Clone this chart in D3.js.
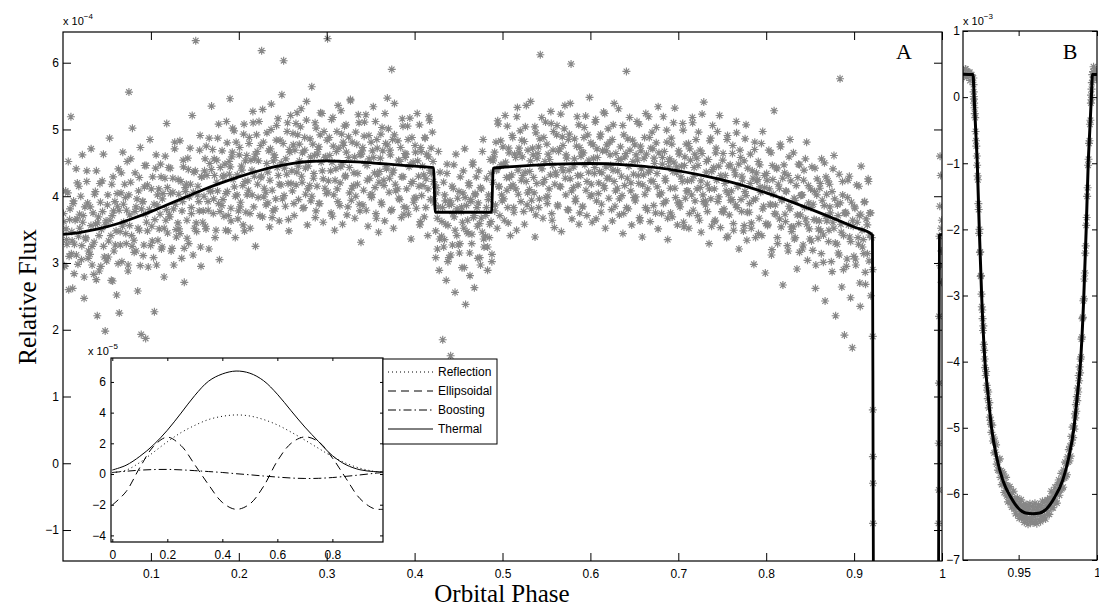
<!DOCTYPE html>
<html><head><meta charset="utf-8">
<script src="https://cdn.jsdelivr.net/npm/d3@7"></script>
<style>
body{margin:0;background:#fff}
svg{display:block}
</style>
</head><body>
<svg id="c" width="1099" height="607" font-family="'Liberation Sans', Arial, Helvetica, sans-serif"></svg>
<script>
// ---------------- DATA (flux in units of 1e-4 unless noted) ----------------
const phaseTicksA = [0.1,0.2,0.3,0.4,0.5,0.6,0.7,0.8,0.9,1];
const phaseLabelsA = ["0.1","0.2","0.3","0.4","0.5","0.6","0.7","0.8","0.9","1"];
const fluxTicksA = [-1,0,1,2,3,4,5,6];
const fluxLabelsA = ["\u22121","0","1","2","3","4","5","6"];
const phaseTicksB = [0.95,1];
const phaseLabelsB = ["0.95","1"];
const fluxTicksB = [-70,-60,-50,-40,-30,-20,-10,0,10];
const fluxLabelsB = ["\u22127","\u22126","\u22125","\u22124","\u22123","\u22122","\u22121","0","1"];
const insetXTicks = [0,0.2,0.4,0.6,0.8];
const insetXLabels = ["0","0.2","0.4","0.6","0.8"];
const insetYTicks = [-4,-2,0,2,4,6];
const insetYLabels = ["\u22124","\u22122","0","2","4","6"];

// model light curve [phase, flux x1e-4]
const modelCurve = [[0,3.43],[0.02,3.46],[0.04,3.51],[0.06,3.58],[0.08,3.67],[0.10,3.77],[0.12,3.88],[0.14,3.99],[0.16,4.10],[0.18,4.20],[0.20,4.29],[0.22,4.37],[0.24,4.44],[0.26,4.49],[0.28,4.52],[0.30,4.53],[0.32,4.52],[0.34,4.51],[0.36,4.49],[0.38,4.47],[0.40,4.45],[0.4215,4.43],[0.4235,3.76],[0.4875,3.76],[0.4895,4.42],[0.52,4.45],[0.56,4.48],[0.60,4.49],[0.64,4.47],[0.68,4.42],[0.72,4.33],[0.76,4.21],[0.80,4.05],[0.84,3.86],[0.88,3.65],[0.90,3.54],[0.9209,3.42],[0.9216,0],[0.9226,-5],[0.9236,-10],[0.9249,-20],[0.9264,-30],[0.9285,-40],[0.9305,-45],[0.9327,-50],[0.9360,-54.5],[0.9400,-58],[0.9450,-60.5],[0.9500,-62.2],[0.9545,-62.9],[0.9590,-63],[0.9635,-62.9],[0.9680,-62.2],[0.9730,-60.5],[0.9780,-58],[0.9820,-54.5],[0.9853,-50],[0.9875,-45],[0.9895,-40],[0.9916,-30],[0.9931,-20],[0.9944,-10],[0.9954,-5],[0.9964,0],[0.9971,3.42],[1,3.43]];

// observed points, out of primary eclipse [phase, flux x1e-4]
const scatterA1 = [[0.001,3.62],[0.002,2.95],[0.003,4.08],[0.004,3.35],[0.006,4.52],[0.007,3.10],[0.008,3.81],[0.009,5.19],[0.010,3.47],[0.011,2.62],[0.012,3.93],[0.013,3.28],[0.015,4.41],[0.016,3.66],[0.017,2.98],[0.018,4.15],[0.019,3.52],[0.021,3.05],[0.022,4.62],[0.023,3.71],[0.024,2.47],[0.026,3.36],[0.027,4.22],[0.028,3.90],[0.029,3.18],[0.031,3.84],[0.032,4.71],[0.033,3.25],[0.035,2.83],[0.036,4.03],[0.037,3.58],[0.038,4.38],[0.039,2.21],[0.041,3.41],[0.042,4.19],[0.043,2.95],[0.045,3.77],[0.046,4.63],[0.047,3.09],[0.048,1.98],[0.049,3.63],[0.051,4.02],[0.052,3.33],[0.053,4.87],[0.055,2.74],[0.056,3.71],[0.057,4.29],[0.058,3.18],[0.059,3.92],[0.061,2.52],[0.062,3.85],[0.063,4.41],[0.064,2.25],[0.065,3.47],[0.066,4.05],[0.067,3.02],[0.068,4.66],[0.069,3.61],[0.071,3.98],[0.072,3.29],[0.073,4.52],[0.074,2.88],[0.075,5.56],[0.076,3.72],[0.077,4.21],[0.078,3.41],[0.079,5.02],[0.081,3.16],[0.082,4.35],[0.083,3.84],[0.085,2.58],[0.086,4.08],[0.087,3.49],[0.088,4.73],[0.089,1.93],[0.091,3.92],[0.092,3.27],[0.093,4.46],[0.094,1.87],[0.095,3.61],[0.096,4.17],[0.097,2.94],[0.099,4.85],[0.101,3.55],[0.102,4.29],[0.103,3.08],[0.104,2.27],[0.106,4.62],[0.107,3.87],[0.108,3.34],[0.109,4.11],[0.111,4.48],[0.112,3.21],[0.113,3.96],[0.115,2.79],[0.116,4.27],[0.117,3.64],[0.118,5.09],[0.119,3.45],[0.121,3.73],[0.122,4.42],[0.123,3.18],[0.125,4.06],[0.126,2.97],[0.127,4.71],[0.128,3.88],[0.129,3.39],[0.131,4.25],[0.132,3.51],[0.133,4.83],[0.135,3.07],[0.136,3.92],[0.137,4.44],[0.138,2.71],[0.139,4.13],[0.141,3.64],[0.142,4.57],[0.143,3.29],[0.145,4.18],[0.146,3.83],[0.147,5.21],[0.148,3.12],[0.149,4.36],[0.151,6.33],[0.152,3.47],[0.153,4.02],[0.155,3.78],[0.156,4.91],[0.157,2.95],[0.158,4.29],[0.159,3.61],[0.161,4.38],[0.162,3.55],[0.163,4.75],[0.165,3.92],[0.166,3.21],[0.167,4.49],[0.168,4.08],[0.169,5.35],[0.171,3.74],[0.172,4.56],[0.173,3.38],[0.175,4.21],[0.176,4.87],[0.177,3.89],[0.178,3.05],[0.179,4.43],[0.181,4.68],[0.182,3.95],[0.183,4.31],[0.185,3.49],[0.186,5.12],[0.187,4.07],[0.188,3.71],[0.189,4.52],[0.190,5.46],[0.191,3.82],[0.192,4.59],[0.193,5.02],[0.195,4.14],[0.196,3.38],[0.197,4.81],[0.198,4.02],[0.199,3.66],[0.201,4.73],[0.202,3.91],[0.203,4.45],[0.205,3.57],[0.206,5.08],[0.207,4.22],[0.208,3.76],[0.209,4.61],[0.211,4.09],[0.212,4.88],[0.213,3.52],[0.215,4.39],[0.216,5.27],[0.217,3.84],[0.218,4.56],[0.219,3.25],[0.221,4.67],[0.222,3.98],[0.223,5.12],[0.225,4.28],[0.226,6.18],[0.227,3.69],[0.228,4.81],[0.229,4.12]];
const scatterA2 = [[0.231,3.87],[0.232,4.95],[0.233,4.36],[0.235,3.54],[0.236,4.71],[0.237,5.38],[0.238,4.09],[0.239,3.78],[0.241,4.58],[0.242,3.96],[0.243,5.06],[0.245,4.31],[0.246,3.63],[0.247,4.84],[0.248,4.17],[0.249,5.52],[0.251,6.03],[0.252,4.42],[0.253,3.85],[0.255,4.97],[0.256,4.19],[0.257,3.48],[0.258,4.66],[0.259,5.21],[0.261,4.08],[0.262,4.77],[0.263,3.71],[0.265,5.09],[0.266,4.36],[0.267,4.92],[0.268,3.95],[0.269,4.53],[0.271,5.31],[0.272,4.21],[0.273,3.82],[0.275,4.69],[0.276,4.03],[0.277,5.14],[0.278,3.57],[0.279,4.45],[0.281,4.86],[0.282,3.93],[0.283,5.64],[0.285,4.27],[0.286,4.61],[0.287,3.68],[0.288,5.02],[0.289,4.15],[0.291,4.74],[0.292,3.89],[0.293,5.25],[0.295,4.38],[0.296,3.61],[0.297,4.97],[0.298,4.12],[0.299,4.59],[0.301,6.36],[0.302,4.23],[0.303,4.88],[0.305,3.75],[0.306,4.51],[0.307,5.18],[0.308,4.02],[0.309,3.49],[0.311,4.67],[0.312,4.11],[0.313,5.36],[0.315,3.86],[0.316,4.44],[0.317,4.93],[0.318,3.58],[0.319,4.76],[0.321,4.29],[0.322,5.07],[0.323,3.72],[0.325,4.58],[0.326,4.05],[0.327,5.45],[0.328,3.94],[0.329,4.81],[0.331,4.35],[0.332,3.67],[0.333,4.96],[0.335,4.18],[0.336,5.22],[0.337,3.88],[0.338,4.62],[0.339,3.31],[0.341,4.73],[0.342,4.09],[0.343,5.11],[0.345,3.79],[0.346,4.46],[0.347,3.55],[0.348,4.91],[0.349,4.27],[0.351,3.98],[0.352,4.68],[0.353,5.34],[0.355,4.13],[0.356,3.74],[0.357,4.85],[0.358,4.32],[0.359,3.46],[0.361,4.57],[0.362,3.91],[0.363,5.03],[0.365,4.24],[0.366,3.63],[0.367,4.79],[0.368,4.41],[0.369,5.47],[0.371,4.06],[0.372,4.69],[0.373,3.78],[0.374,5.90],[0.375,4.35],[0.376,3.52],[0.377,4.92],[0.378,4.18],[0.381,4.83],[0.382,3.97],[0.383,4.52],[0.385,3.68],[0.386,5.16],[0.387,4.29],[0.388,3.84],[0.389,4.64],[0.391,4.11],[0.392,5.05],[0.393,3.73],[0.395,4.47],[0.396,3.36],[0.397,4.88],[0.398,4.22],[0.399,3.91],[0.401,4.66],[0.402,3.82],[0.403,5.24],[0.405,4.15],[0.406,3.57],[0.407,4.73],[0.408,4.01],[0.409,4.45],[0.411,3.69],[0.412,4.87],[0.413,4.26],[0.415,3.41],[0.416,4.59],[0.417,5.13],[0.418,3.95],[0.419,4.34],[0.421,4.52],[0.422,3.96],[0.423,4.17],[0.424,3.48],[0.425,4.05],[0.426,3.21],[0.427,3.84],[0.428,2.89],[0.429,4.36],[0.431,3.62],[0.432,1.85],[0.433,4.21],[0.434,3.35],[0.435,3.93],[0.436,2.74],[0.437,4.48],[0.438,3.56],[0.439,3.08],[0.441,1.61],[0.442,3.88],[0.443,3.27],[0.444,4.12],[0.445,3.69],[0.446,2.56],[0.447,4.63],[0.448,3.41],[0.449,3.97],[0.451,3.15],[0.452,4.29],[0.453,3.77],[0.454,2.93],[0.455,4.05],[0.456,3.52],[0.457,4.71],[0.458,2.38],[0.459,3.86]];
const scatterA3 = [[0.461,3.44],[0.462,4.16],[0.463,2.81],[0.464,3.92],[0.465,3.29],[0.466,4.47],[0.467,3.68],[0.468,2.63],[0.469,4.02],[0.471,3.83],[0.472,3.07],[0.473,4.38],[0.474,3.59],[0.475,2.97],[0.476,4.11],[0.477,3.46],[0.478,4.85],[0.479,3.24],[0.481,3.71],[0.482,4.27],[0.483,2.89],[0.484,3.95],[0.485,3.38],[0.486,4.55],[0.487,3.62],[0.488,3.13],[0.489,4.21],[0.491,4.66],[0.492,3.87],[0.493,4.39],[0.494,3.52],[0.495,5.08],[0.496,4.14],[0.497,3.71],[0.498,4.83],[0.499,4.02],[0.501,4.47],[0.502,3.64],[0.503,5.21],[0.505,4.09],[0.506,3.83],[0.507,4.72],[0.508,4.28],[0.509,3.41],[0.511,4.91],[0.512,4.17],[0.513,3.76],[0.515,4.58],[0.516,3.49],[0.517,5.33],[0.518,4.03],[0.519,4.65],[0.521,3.92],[0.522,4.84],[0.523,4.31],[0.525,3.58],[0.526,5.04],[0.527,4.22],[0.528,3.87],[0.529,4.69],[0.531,4.37],[0.532,5.42],[0.533,3.81],[0.535,4.62],[0.536,4.05],[0.537,3.39],[0.538,4.95],[0.539,4.19],[0.541,4.74],[0.542,3.96],[0.543,6.12],[0.545,4.41],[0.546,3.67],[0.547,4.88],[0.548,4.25],[0.549,5.11],[0.551,3.89],[0.552,4.63],[0.553,4.11],[0.555,5.27],[0.556,3.74],[0.557,4.46],[0.558,4.97],[0.559,3.53],[0.561,4.32],[0.562,5.06],[0.563,3.85],[0.565,4.71],[0.566,4.14],[0.567,3.47],[0.568,4.89],[0.569,4.38],[0.571,5.36],[0.572,4.02],[0.573,4.57],[0.575,3.79],[0.576,4.93],[0.577,4.26],[0.578,5.98],[0.579,3.66],[0.581,4.44],[0.582,4.86],[0.583,3.92],[0.585,5.19],[0.586,4.17],[0.587,3.58],[0.588,4.73],[0.589,4.31],[0.591,3.84],[0.592,4.65],[0.593,5.03],[0.595,4.09],[0.596,3.71],[0.597,4.92],[0.598,4.36],[0.599,5.48],[0.601,4.18],[0.602,3.61],[0.603,4.77],[0.605,4.43],[0.606,5.15],[0.607,3.93],[0.608,4.58],[0.609,4.04],[0.611,4.89],[0.612,3.76],[0.613,4.35],[0.615,5.26],[0.616,4.12],[0.617,3.52],[0.618,4.68],[0.619,4.27],[0.621,3.97],[0.622,4.81],[0.623,4.46],[0.625,3.63],[0.626,5.07],[0.627,4.22],[0.628,3.85],[0.629,4.64],[0.631,4.38],[0.632,5.31],[0.633,3.72],[0.635,4.55],[0.636,4.01],[0.637,3.44],[0.638,4.92],[0.639,4.16],[0.641,5.87],[0.642,4.27],[0.643,3.81],[0.645,4.69],[0.646,4.08],[0.647,3.57],[0.648,4.84],[0.649,4.33],[0.651,3.93],[0.652,4.62],[0.653,5.12],[0.655,4.19],[0.656,3.68],[0.657,4.75],[0.658,4.41],[0.659,3.39],[0.661,4.57],[0.662,4.03],[0.663,5.24],[0.665,3.79],[0.666,4.36],[0.667,4.88],[0.668,3.62],[0.669,4.23],[0.671,4.71],[0.672,3.86],[0.673,4.49],[0.675,5.03],[0.676,4.14],[0.677,3.51],[0.678,4.65],[0.679,4.02],[0.681,3.74],[0.682,4.58],[0.683,5.19],[0.685,4.27],[0.686,3.93],[0.687,4.81],[0.688,3.35],[0.689,4.44]];
const scatterA4 = [[0.691,4.12],[0.692,4.87],[0.693,3.69],[0.695,4.51],[0.696,5.32],[0.697,3.98],[0.698,4.35],[0.699,3.57],[0.701,4.63],[0.702,3.84],[0.703,4.29],[0.705,5.09],[0.706,3.61],[0.707,4.46],[0.708,3.97],[0.709,4.78],[0.711,4.08],[0.712,3.52],[0.713,4.71],[0.715,4.24],[0.716,5.18],[0.717,3.79],[0.718,4.43],[0.719,3.93],[0.721,4.57],[0.722,3.71],[0.723,4.96],[0.725,4.13],[0.726,3.46],[0.727,4.64],[0.728,4.02],[0.729,5.41],[0.731,3.87],[0.732,4.52],[0.733,4.18],[0.735,3.29],[0.736,4.83],[0.737,3.96],[0.738,4.37],[0.739,5.06],[0.741,4.11],[0.742,3.64],[0.743,4.72],[0.745,3.92],[0.746,4.45],[0.747,5.21],[0.748,3.53],[0.749,4.28],[0.751,4.64],[0.752,3.81],[0.753,4.19],[0.755,3.38],[0.756,4.91],[0.757,4.03],[0.758,3.72],[0.759,4.47],[0.761,3.95],[0.762,4.76],[0.763,3.49],[0.765,4.32],[0.766,5.12],[0.767,3.83],[0.768,4.15],[0.769,3.21],[0.771,4.58],[0.772,3.77],[0.773,4.24],[0.775,3.56],[0.776,4.86],[0.777,4.01],[0.778,3.34],[0.779,4.42],[0.781,3.89],[0.782,4.63],[0.783,3.52],[0.785,4.27],[0.786,2.98],[0.787,4.81],[0.788,3.96],[0.789,4.35],[0.791,4.52],[0.792,3.67],[0.793,4.14],[0.795,3.41],[0.796,4.97],[0.797,3.85],[0.798,4.31],[0.799,2.85],[0.801,4.24],[0.802,3.58],[0.803,4.69],[0.805,3.87],[0.806,3.12],[0.807,4.46],[0.808,4.03],[0.809,5.28],[0.811,3.73],[0.812,4.41],[0.813,3.29],[0.815,4.12],[0.816,4.78],[0.817,3.54],[0.818,3.95],[0.819,2.67],[0.821,4.35],[0.822,3.62],[0.823,4.07],[0.825,3.18],[0.826,4.59],[0.827,3.81],[0.828,4.23],[0.829,3.47],[0.831,4.65],[0.832,3.36],[0.833,3.94],[0.835,2.91],[0.836,4.28],[0.837,3.59],[0.838,4.47],[0.839,3.72],[0.841,4.02],[0.842,3.27],[0.843,4.39],[0.845,3.66],[0.846,4.81],[0.847,3.04],[0.848,4.16],[0.849,3.51],[0.851,3.83],[0.852,4.44],[0.853,3.19],[0.855,4.07],[0.856,2.62],[0.857,3.64],[0.858,4.26],[0.859,3.37],[0.861,4.12],[0.862,3.48],[0.863,4.56],[0.865,3.01],[0.866,3.86],[0.867,2.43],[0.868,4.29],[0.869,3.63],[0.871,3.32],[0.872,4.18],[0.873,3.75],[0.875,2.87],[0.876,4.41],[0.877,3.52],[0.878,3.96],[0.879,2.21],[0.881,3.87],[0.882,3.15],[0.883,4.33],[0.884,5.76],[0.885,3.58],[0.886,2.64],[0.887,4.02],[0.888,3.41],[0.889,1.92],[0.891,3.74],[0.892,3.06],[0.893,4.24],[0.895,3.39],[0.896,2.48],[0.897,3.91],[0.898,1.73],[0.899,3.55],[0.901,3.82],[0.902,2.97],[0.903,4.17],[0.905,3.28],[0.906,3.71],[0.907,2.35],[0.908,4.45],[0.909,3.49],[0.911,3.14],[0.912,3.92],[0.913,2.68],[0.915,3.57],[0.916,4.26],[0.917,3.03],[0.918,3.75],[0.919,2.51],[0.920,3.38],[0.9975,3.85],[0.9978,4.60],[0.998,2.96],[0.9985,4.31],[0.999,3.52],[0.9992,3.18],[0.9995,2.71],[0.9998,3.64]];
const scatterB1 = [[0.0005,3.74],[0.0015,2.96],[0.0035,3.51],[0.0045,3.28],[0.0055,4.05],[0.0065,2.60],[0.0075,3.65],[0.0095,3.14],[0.0104,3.33],[0.0116,3.89],[0.0127,2.84],[0.0138,3.64],[0.0152,3.12],[0.0163,4.20],[0.0177,3.40],[0.0188,3.73],[0.0202,4.00],[0.0214,3.26],[0.0224,3.61],[0.0241,2.79],[0.0249,3.84],[0.0258,3.38],[0.0271,4.38],[0.0286,3.07],[0.0307,3.13],[0.0318,3.56],[0.0331,2.97],[0.0342,3.75],[0.0354,3.31],[0.0368,4.07],[0.0379,2.75],[0.0393,3.60],[0.0403,3.69],[0.0412,2.88],[0.0426,3.91],[0.0437,3.50],[0.0446,4.23],[0.0461,3.25],[0.0483,3.57],[0.0497,3.03],[0.0505,3.87],[0.0515,3.09],[0.0535,3.64],[0.0545,3.41],[0.0555,4.18],[0.0565,2.73],[0.0575,3.78],[0.0595,3.27],[0.0604,3.48],[0.0616,4.04],[0.0627,2.99],[0.0638,3.79],[0.0652,3.27],[0.0663,4.35],[0.0677,3.55],[0.0688,3.88],[0.0702,4.18],[0.0714,3.44],[0.0724,3.79],[0.0741,2.97],[0.0749,4.02],[0.0758,3.56],[0.0771,4.56],[0.0786,3.25],[0.0807,3.34],[0.0818,3.77],[0.0831,3.18],[0.0842,3.96],[0.0854,3.52],[0.0868,4.28],[0.0879,2.96],[0.0893,3.81],[0.0903,3.92],[0.0912,3.11],[0.0926,4.14],[0.0937,3.73],[0.0946,4.46],[0.0961,3.48],[0.0983,3.80],[0.0997,3.26],[0.1005,4.11],[0.1015,3.33],[0.1035,3.88],[0.1045,3.65],[0.1055,4.42],[0.1065,2.97],[0.1075,4.02],[0.1095,3.51],[0.1104,3.73],[0.1116,4.29],[0.1127,3.24],[0.1138,4.04],[0.1152,3.52],[0.1163,4.60],[0.1177,3.80],[0.1188,4.13],[0.1202,4.43],[0.1214,3.69],[0.1224,4.04],[0.1241,3.22],[0.1249,4.27],[0.1258,3.81],[0.1271,4.81],[0.1286,3.50],[0.1307,3.60],[0.1318,4.03],[0.1331,3.44],[0.1342,4.22],[0.1354,3.78],[0.1368,4.54],[0.1379,3.22],[0.1393,4.07],[0.1403,4.18],[0.1412,3.37],[0.1426,4.40],[0.1437,3.99],[0.1446,4.72],[0.1461,3.74],[0.1483,4.06],[0.1497,3.52],[0.1505,4.38],[0.1515,3.60],[0.1535,4.15],[0.1545,3.92],[0.1555,4.69],[0.1565,3.24],[0.1575,4.29],[0.1595,3.78],[0.1604,4.00],[0.1616,4.56],[0.1627,3.51],[0.1638,4.31],[0.1652,3.79],[0.1663,4.87],[0.1677,4.07],[0.1688,4.40],[0.1702,4.70],[0.1714,3.96],[0.1724,4.31],[0.1741,3.49],[0.1749,4.54],[0.1758,4.08],[0.1771,5.08],[0.1786,3.77],[0.1807,3.86],[0.1818,4.29],[0.1831,3.70],[0.1842,4.48],[0.1854,4.04],[0.1868,4.80],[0.1879,3.48],[0.1893,4.33],[0.1903,4.44],[0.1912,3.63],[0.1926,4.66],[0.1937,4.25],[0.1946,4.98],[0.1961,4.00],[0.1983,4.32],[0.1997,3.78],[0.2005,4.62],[0.2015,3.84],[0.2035,4.39],[0.2045,4.16],[0.2055,4.93],[0.2065,3.48],[0.2075,4.53],[0.2095,4.02],[0.2104,4.23],[0.2116,4.79],[0.2127,3.74],[0.2138,4.54],[0.2152,4.02],[0.2163,5.10],[0.2177,4.30],[0.2188,4.63],[0.2202,4.92],[0.2214,4.18],[0.2224,4.53],[0.2241,3.71],[0.2249,4.76],[0.2258,4.30],[0.2271,5.30],[0.2286,3.99]];
const scatterB2 = [[0.2307,4.06],[0.2318,4.49],[0.2331,3.90],[0.2342,4.68],[0.2354,4.24],[0.2368,5.00],[0.2379,3.68],[0.2393,4.53],[0.2403,4.62],[0.2412,3.81],[0.2426,4.84],[0.2437,4.43],[0.2446,5.16],[0.2461,4.18],[0.2483,4.50],[0.2497,3.96],[0.2505,4.79],[0.2515,4.01],[0.2535,4.56],[0.2545,4.33],[0.2555,5.10],[0.2565,3.65],[0.2575,4.70],[0.2595,4.19],[0.2604,4.38],[0.2616,4.94],[0.2627,3.89],[0.2638,4.69],[0.2652,4.17],[0.2663,5.25],[0.2677,4.45],[0.2688,4.78],[0.2702,5.04],[0.2714,4.30],[0.2724,4.65],[0.2741,3.83],[0.2749,4.88],[0.2758,4.42],[0.2771,5.42],[0.2786,4.11],[0.2807,4.16],[0.2818,4.59],[0.2831,4.00],[0.2842,4.78],[0.2854,4.34],[0.2868,5.10],[0.2879,3.78],[0.2893,4.63],[0.2903,4.70],[0.2912,3.89],[0.2926,4.92],[0.2937,4.51],[0.2946,5.24],[0.2961,4.26],[0.2983,4.58],[0.2997,4.04],[0.3005,4.84],[0.3015,4.06],[0.3035,4.61],[0.3045,4.38],[0.3055,5.15],[0.3065,3.70],[0.3075,4.75],[0.3095,4.24],[0.3104,4.41],[0.3116,4.97],[0.3127,3.92],[0.3138,4.72],[0.3152,4.20],[0.3163,5.28],[0.3177,4.48],[0.3188,4.81],[0.3202,5.05],[0.3214,4.31],[0.3224,4.66],[0.3241,3.84],[0.3249,4.89],[0.3258,4.43],[0.3271,5.43],[0.3286,4.12],[0.3307,4.16],[0.3318,4.59],[0.3331,4.00],[0.3342,4.78],[0.3354,4.34],[0.3368,5.10],[0.3379,3.78],[0.3393,4.63],[0.3403,4.68],[0.3412,3.87],[0.3426,4.90],[0.3437,4.49],[0.3446,5.22],[0.3461,4.24],[0.3483,4.56],[0.3497,4.02],[0.3505,4.81],[0.3515,4.03],[0.3535,4.58],[0.3545,4.35],[0.3555,5.12],[0.3565,3.67],[0.3575,4.72],[0.3595,4.21],[0.3604,4.37],[0.3616,4.93],[0.3627,3.88],[0.3638,4.68],[0.3652,4.16],[0.3663,5.24],[0.3677,4.44],[0.3688,4.77],[0.3702,5.01],[0.3714,4.27],[0.3724,4.62],[0.3741,3.80],[0.3749,4.85],[0.3758,4.39],[0.3771,5.39],[0.3786,4.08],[0.3807,4.11],[0.3818,4.54],[0.3831,3.95],[0.3842,4.73],[0.3854,4.29],[0.3868,5.05],[0.3879,3.73],[0.3893,4.58],[0.3903,4.63],[0.3912,3.82],[0.3926,4.85],[0.3937,4.44],[0.3946,5.17],[0.3961,4.19],[0.3983,4.51],[0.3997,3.97],[0.4005,4.76],[0.4015,3.98],[0.4035,4.53],[0.4045,4.30],[0.4055,5.07],[0.4065,3.62],[0.4075,4.67],[0.4095,4.16],[0.4104,4.32],[0.4116,4.88],[0.4127,3.83],[0.4138,4.63],[0.4152,4.11],[0.4163,5.19],[0.4177,4.39],[0.4188,4.72],[0.4202,4.96],[0.4214,4.22],[0.4224,3.90],[0.4241,3.08],[0.4249,4.13],[0.4258,3.67],[0.4271,4.67],[0.4286,3.36],[0.4307,3.40],[0.4318,3.83],[0.4331,3.24],[0.4342,4.02],[0.4354,3.58],[0.4368,4.34],[0.4379,3.02],[0.4393,3.87],[0.4403,3.93],[0.4412,3.12],[0.4426,4.15],[0.4437,3.74],[0.4446,4.47],[0.4461,3.49],[0.4483,3.81],[0.4497,3.27],[0.4505,4.07],[0.4515,3.29],[0.4535,3.84],[0.4545,3.61],[0.4555,4.38],[0.4565,2.93],[0.4575,3.98],[0.4595,3.47]];
const scatterB3 = [[0.4604,3.64],[0.4616,4.20],[0.4627,3.15],[0.4638,3.95],[0.4652,3.43],[0.4663,4.51],[0.4677,3.71],[0.4688,4.04],[0.4702,4.29],[0.4714,3.55],[0.4724,3.90],[0.4741,3.08],[0.4749,4.13],[0.4758,3.67],[0.4771,4.67],[0.4786,3.36],[0.4807,3.40],[0.4818,3.83],[0.4831,3.24],[0.4842,4.02],[0.4854,3.58],[0.4868,4.34],[0.4879,3.02],[0.4893,4.53],[0.4903,4.59],[0.4912,3.78],[0.4926,4.81],[0.4937,4.40],[0.4946,5.13],[0.4961,4.15],[0.4983,4.47],[0.4997,3.93],[0.5005,4.74],[0.5015,3.96],[0.5035,4.51],[0.5045,4.28],[0.5055,5.05],[0.5065,3.60],[0.5075,4.65],[0.5095,4.14],[0.5104,4.32],[0.5116,4.88],[0.5127,3.83],[0.5138,4.63],[0.5152,4.11],[0.5163,5.19],[0.5177,4.39],[0.5188,4.72],[0.5202,4.98],[0.5214,4.24],[0.5224,4.59],[0.5241,3.77],[0.5249,4.82],[0.5258,4.36],[0.5271,5.36],[0.5286,4.05],[0.5307,4.10],[0.5318,4.53],[0.5331,3.94],[0.5342,4.72],[0.5354,4.28],[0.5368,5.04],[0.5379,3.72],[0.5393,4.57],[0.5403,4.64],[0.5412,3.83],[0.5426,4.86],[0.5437,4.45],[0.5446,5.18],[0.5461,4.20],[0.5483,4.52],[0.5497,3.98],[0.5505,4.78],[0.5515,4.00],[0.5535,4.55],[0.5545,4.32],[0.5555,5.09],[0.5565,3.64],[0.5575,4.69],[0.5595,4.18],[0.5604,4.36],[0.5616,4.92],[0.5627,3.87],[0.5638,4.67],[0.5652,4.15],[0.5663,5.23],[0.5677,4.43],[0.5688,4.76],[0.5702,5.01],[0.5714,4.27],[0.5724,4.62],[0.5741,3.80],[0.5749,4.85],[0.5758,4.39],[0.5771,5.39],[0.5786,4.08],[0.5807,4.13],[0.5818,4.56],[0.5831,3.97],[0.5842,4.75],[0.5854,4.31],[0.5868,5.07],[0.5879,3.75],[0.5893,4.60],[0.5903,4.66],[0.5912,3.85],[0.5926,4.88],[0.5937,4.47],[0.5946,5.20],[0.5961,4.22],[0.5983,4.54],[0.5997,4.00],[0.6005,4.80],[0.6015,4.02],[0.6035,4.57],[0.6045,4.34],[0.6055,5.11],[0.6065,3.66],[0.6075,4.71],[0.6095,4.20],[0.6104,4.37],[0.6116,4.93],[0.6127,3.88],[0.6138,4.68],[0.6152,4.16],[0.6163,5.24],[0.6177,4.44],[0.6188,4.77],[0.6202,5.01],[0.6214,4.27],[0.6224,4.62],[0.6241,3.80],[0.6249,4.85],[0.6258,4.39],[0.6271,5.39],[0.6286,4.08],[0.6307,4.12],[0.6318,4.55],[0.6331,3.96],[0.6342,4.74],[0.6354,4.30],[0.6368,5.06],[0.6379,3.74],[0.6393,4.59],[0.6403,4.64],[0.6412,3.83],[0.6426,4.86],[0.6437,4.45],[0.6446,5.18],[0.6461,4.20],[0.6483,4.52],[0.6497,3.98],[0.6505,4.77],[0.6515,3.99],[0.6535,4.54],[0.6545,4.31],[0.6555,5.08],[0.6565,3.63],[0.6575,4.68],[0.6595,4.17],[0.6604,4.32],[0.6616,4.88],[0.6627,3.83],[0.6638,4.63],[0.6652,4.11],[0.6663,5.19],[0.6677,4.39],[0.6688,4.72],[0.6702,4.96],[0.6714,4.22],[0.6724,4.57],[0.6741,3.75],[0.6749,4.80],[0.6758,4.34],[0.6771,5.34],[0.6786,4.03],[0.6807,4.05],[0.6818,4.48],[0.6831,3.89],[0.6842,4.67],[0.6854,4.23],[0.6868,4.99],[0.6879,3.67],[0.6893,4.52]];
const scatterB4 = [[0.6903,4.56],[0.6912,3.75],[0.6926,4.78],[0.6937,4.37],[0.6946,5.10],[0.6961,4.12],[0.6983,4.44],[0.6997,3.90],[0.7005,4.68],[0.7015,3.90],[0.7035,4.45],[0.7045,4.22],[0.7055,4.99],[0.7065,3.54],[0.7075,4.59],[0.7095,4.08],[0.7104,4.23],[0.7116,4.79],[0.7127,3.74],[0.7138,4.54],[0.7152,4.02],[0.7163,5.10],[0.7177,4.30],[0.7188,4.63],[0.7202,4.85],[0.7214,4.11],[0.7224,4.46],[0.7241,3.64],[0.7249,4.69],[0.7258,4.23],[0.7271,5.23],[0.7286,3.92],[0.7307,3.93],[0.7318,4.36],[0.7331,3.77],[0.7342,4.55],[0.7354,4.11],[0.7368,4.87],[0.7379,3.55],[0.7393,4.40],[0.7403,4.43],[0.7412,3.62],[0.7426,4.65],[0.7437,4.24],[0.7446,4.97],[0.7461,3.99],[0.7483,4.31],[0.7497,3.77],[0.7505,4.54],[0.7515,3.76],[0.7535,4.31],[0.7545,4.08],[0.7555,4.85],[0.7565,3.40],[0.7575,4.45],[0.7595,3.94],[0.7604,4.08],[0.7616,4.64],[0.7627,3.59],[0.7638,4.39],[0.7652,3.87],[0.7663,4.95],[0.7677,4.15],[0.7688,4.48],[0.7702,4.69],[0.7714,3.95],[0.7724,4.30],[0.7741,3.48],[0.7749,4.53],[0.7758,4.07],[0.7771,5.07],[0.7786,3.76],[0.7807,3.76],[0.7818,4.19],[0.7831,3.60],[0.7842,4.38],[0.7854,3.94],[0.7868,4.70],[0.7879,3.38],[0.7893,4.23],[0.7903,4.25],[0.7912,3.44],[0.7926,4.47],[0.7937,4.06],[0.7946,4.79],[0.7961,3.81],[0.7983,4.13],[0.7997,3.59],[0.8005,4.34],[0.8015,3.56],[0.8035,4.11],[0.8045,3.88],[0.8055,4.65],[0.8065,3.20],[0.8075,4.25],[0.8095,3.74],[0.8104,3.87],[0.8116,4.43],[0.8127,3.38],[0.8138,4.18],[0.8152,3.66],[0.8163,4.74],[0.8177,3.94],[0.8188,4.27],[0.8202,4.47],[0.8214,3.73],[0.8224,4.08],[0.8241,3.26],[0.8249,4.31],[0.8258,3.85],[0.8271,4.85],[0.8286,3.54],[0.8307,3.54],[0.8318,3.97],[0.8331,3.38],[0.8342,4.16],[0.8354,3.72],[0.8368,4.48],[0.8379,3.16],[0.8393,4.01],[0.8403,4.02],[0.8412,3.21],[0.8426,4.24],[0.8437,3.83],[0.8446,4.56],[0.8461,3.58],[0.8483,3.90],[0.8497,3.36],[0.8505,4.11],[0.8515,3.33],[0.8535,3.88],[0.8545,3.65],[0.8555,4.42],[0.8565,2.97],[0.8575,4.02],[0.8595,3.51],[0.8604,3.63],[0.8616,4.19],[0.8627,3.14],[0.8638,3.94],[0.8652,3.42],[0.8663,4.50],[0.8677,3.70],[0.8688,4.03],[0.8702,4.23],[0.8714,3.49],[0.8724,3.84],[0.8741,3.02],[0.8749,4.07],[0.8758,3.61],[0.8771,4.61],[0.8786,3.30],[0.8807,3.28],[0.8818,3.71],[0.8831,3.12],[0.8842,3.90],[0.8854,3.46],[0.8868,4.22],[0.8879,2.90],[0.8893,3.75],[0.8903,3.76],[0.8912,2.95],[0.8926,3.98],[0.8937,3.57],[0.8946,4.30],[0.8961,3.32],[0.8983,3.64],[0.8997,3.10],[0.9005,3.84],[0.9015,3.06],[0.9035,3.61],[0.9045,3.38],[0.9055,4.15],[0.9065,2.70],[0.9075,3.73],[0.9095,3.24],[0.9104,3.35],[0.9116,3.91],[0.9127,2.86],[0.9138,3.66],[0.9152,3.14],[0.9163,4.22],[0.9177,3.42],[0.9188,3.75]];

// observed points inside the primary eclipse [phase, flux x1e-4]
const eclipsePoints = [[0.9211,2.9],[0.9212,1.9],[0.9213,0.8],[0.9214,0.1],[0.9215,-0.3],[0.9216,-0.9],[0.9218,-1.6],[0.9220,-2.5],[0.9223,-3.1],[0.9225,-5.2],[0.9228,-6.6],[0.9230,-7.4],[0.9233,-8.9],[0.9235,-10.3],[0.9238,-11.9],[0.9240,-12.5],[0.9243,-16.1],[0.9245,-17.0],[0.9248,-20.6],[0.9250,-20.0],[0.9253,-23.5],[0.9255,-23.4],[0.9258,-27.1],[0.9260,-27.0],[0.9263,-29.8],[0.9265,-31.7],[0.9268,-32.2],[0.9270,-33.5],[0.9273,-35.3],[0.9275,-34.6],[0.9278,-37.4],[0.9280,-38.3],[0.9283,-39.6],[0.9286,-40.9],[0.9290,-42.1],[0.9293,-41.5],[0.9296,-43.6],[0.9300,-44.3],[0.9303,-45.6],[0.9306,-44.6],[0.9310,-47.0],[0.9313,-46.2],[0.9316,-48.4],[0.9320,-48.9],[0.9323,-49.5],[0.9326,-50.7],[0.9332,-49.6],[0.9336,-52.0],[0.9340,-51.4],[0.9344,-53.8],[0.9348,-52.0],[0.9352,-53.7],[0.9356,-52.6],[0.9360,-55.5],[0.9364,-54.7],[0.9368,-56.4],[0.9372,-54.9],[0.9376,-56.5],[0.9380,-54.7],[0.9384,-57.5],[0.9388,-56.5],[0.9392,-58.6],[0.9396,-56.7],[0.9400,-58.5],[0.9404,-57.0],[0.9408,-59.8],[0.9412,-58.3],[0.9416,-59.5],[0.9420,-57.5],[0.9424,-60.3],[0.9428,-58.8],[0.9432,-61.2],[0.9436,-59.0],[0.9440,-60.4],[0.9444,-58.9],[0.9448,-61.3],[0.9452,-60.4],[0.9456,-62.0],[0.9460,-59.8],[0.9464,-61.6],[0.9468,-59.6],[0.9472,-62.3],[0.9476,-60.9],[0.9480,-63.0],[0.9484,-60.8],[0.9488,-62.1],[0.9492,-60.6],[0.9496,-63.2],[0.9500,-61.6],[0.9504,-63.7],[0.9508,-61.5],[0.9512,-62.9],[0.9516,-60.9],[0.9520,-63.7],[0.9524,-62.3],[0.9528,-63.4],[0.9532,-61.6],[0.9536,-64.3],[0.9540,-62.2],[0.9544,-63.1],[0.9548,-61.6],[0.9552,-63.9],[0.9556,-62.6],[0.9560,-64.6],[0.9564,-62.1],[0.9568,-63.6],[0.9572,-61.5],[0.9576,-64.2],[0.9580,-62.8],[0.9584,-63.9],[0.9588,-61.9],[0.9592,-64.4],[0.9596,-62.3],[0.9600,-63.4],[0.9604,-61.4],[0.9608,-64.1],[0.9612,-62.5],[0.9616,-64.5],[0.9620,-62.1],[0.9624,-63.2],[0.9628,-61.7],[0.9632,-63.9],[0.9636,-62.5],[0.9640,-64.2],[0.9644,-61.8],[0.9648,-63.4],[0.9652,-61.1],[0.9656,-63.8],[0.9660,-62.2],[0.9664,-63.3],[0.9668,-61.1],[0.9672,-63.8],[0.9676,-61.7],[0.9680,-62.5],[0.9684,-60.9],[0.9688,-63.0],[0.9692,-61.3],[0.9696,-63.1],[0.9700,-60.6],[0.9704,-62.0],[0.9708,-59.6],[0.9712,-62.1],[0.9716,-60.7],[0.9720,-62.1],[0.9724,-59.9],[0.9728,-61.1],[0.9732,-59.0],[0.9736,-61.1],[0.9740,-59.6],[0.9744,-61.4],[0.9748,-58.6],[0.9752,-59.8],[0.9756,-57.9],[0.9760,-60.2],[0.9764,-58.2],[0.9768,-59.4],[0.9772,-56.9],[0.9776,-59.2],[0.9780,-57.8],[0.9784,-59.0],[0.9788,-56.4],[0.9792,-57.6],[0.9796,-55.2],[0.9800,-57.4],[0.9804,-55.4],[0.9808,-57.1],[0.9812,-54.4],[0.9816,-55.2],[0.9820,-53.3],[0.9824,-55.0],[0.9828,-52.8],[0.9832,-54.3],[0.9836,-51.3],[0.9840,-52.3],[0.9844,-49.9],[0.9848,-51.5],[0.9852,-49.7],[0.9856,-50.2],[0.9859,-47.9],[0.9862,-48.5],[0.9865,-46.5],[0.9868,-47.5],[0.9871,-45.3],[0.9874,-45.9],[0.9877,-44.0],[0.9880,-44.6],[0.9883,-42.1],[0.9886,-42.9],[0.9889,-40.8],[0.9892,-41.7],[0.9895,-39.6],[0.9898,-39.3],[0.9901,-36.6],[0.9904,-36.3],[0.9907,-33.5],[0.9910,-33.3],[0.9913,-30.8],[0.9916,-30.5],[0.9919,-27.5],[0.9922,-26.6],[0.9925,-23.6],[0.9928,-22.5],[0.9931,-19.4],[0.9934,-18.2],[0.9937,-15.0],[0.9940,-13.7],[0.9943,-10.3],[0.9946,-9.4],[0.9949,-7.0],[0.9952,-6.6],[0.9955,-4.1],[0.9958,-3.5],[0.9961,-0.9],[0.9962,0.3],[0.9964,-0.4],[0.9965,1.2],[0.9967,2.2],[0.9970,3.4]];

// inset model components [x1e-5]
const insetPhase = [0,0.05,0.10,0.15,0.20,0.25,0.30,0.35,0.40,0.45,0.50,0.55,0.60,0.65,0.70,0.75,0.80,0.85,0.90,0.95,0.984];
const reflection = [0.09,0.25,0.75,1.42,2.10,2.70,3.17,3.55,3.76,3.85,3.78,3.55,3.20,2.73,2.21,1.67,1.13,0.70,0.38,0.18,0.09];
const ellipsoidal = [-2.02,-1.15,0.42,1.80,2.40,1.85,0.60,-0.70,-1.85,-2.30,-1.95,-0.80,0.85,2.00,2.42,2.10,1.05,-0.30,-1.60,-2.25,-2.30];
const boosting = [0.10,0.18,0.25,0.29,0.30,0.27,0.22,0.16,0.10,0.02,-0.05,-0.13,-0.20,-0.26,-0.29,-0.28,-0.23,-0.15,-0.06,0.04,0.10];
const thermal = [0.26,0.57,1.15,1.90,2.85,3.97,5.12,6.05,6.52,6.71,6.57,6.08,5.20,4.12,3.06,2.11,1.20,0.60,0.28,0.16,0.15];
const legendNames = ["Reflection","Ellipsoidal","Boosting","Thermal"];

// ---------------- DRAWING ----------------
const svg = d3.select("#c");
const GRAY = "#878787";
const FS = 12;
const SERIF = "'Liberation Serif', 'Times New Roman', Times, serif";

const xA = d3.scaleLinear().domain([0,1]).range([63,942]);
const yA = d3.scaleLinear().domain([-1.464,6.46]).range([561,32]);
const xB = d3.scaleLinear().domain([0.9145,1]).range([963,1097]);
const yB = d3.scaleLinear().domain([-70,10]).range([560,31]);
const xI = d3.scaleLinear().domain([-0.0047,0.984]).range([111,383]);
const yI = d3.scaleLinear().domain([-4.43,7.56]).range([542,358]);

const defs = svg.append("defs");
function clip(id, x0, y0, x1, y1){
  defs.append("clipPath").attr("id",id).append("rect")
    .attr("x",x0).attr("y",y0).attr("width",x1-x0).attr("height",y1-y0);
}
clip("clipA",63,32,942,561);
clip("clipB",963,31,1097,560);
clip("clipI",111,358,383,542);

const star = "M-4,0H4M0,-4V4M-2.8,-2.8L2.8,2.8M-2.8,2.8L2.8,-2.8";
const allScatter = scatterA1.concat(scatterA2, scatterA3, scatterA4,
  scatterB1, scatterB2, scatterB3, scatterB4, eclipsePoints);

function drawPanel(x, y, clipId, lw){
  const g = svg.append("g").attr("clip-path", `url(#${clipId})`);
  g.append("g").selectAll("path").data(allScatter).join("path")
    .attr("d", star)
    .attr("transform", d => `translate(${x(d[0]).toFixed(2)},${y(d[1]).toFixed(2)})`)
    .attr("fill","none").attr("stroke",GRAY).attr("stroke-width",1.15);
  const line = d3.line().x(d=>x(d[0])).y(d=>y(d[1])).curve(d3.curveMonotoneX);
  g.append("path").datum(modelCurve).attr("d",line)
    .attr("fill","none").attr("stroke","#000").attr("stroke-width",lw)
    .attr("stroke-linejoin","round");
}
drawPanel(xA, yA, "clipA", 2.8);
drawPanel(xB, yB, "clipB", 3);

function styleAxis(g){
  g.attr("font-family", null).attr("font-size", FS);
  g.select(".domain").remove();
  g.selectAll("line").attr("stroke","#000").attr("stroke-width",1);
  g.selectAll("text").attr("fill","#000");
}
function box(x0,y0,x1,y1,sw){
  svg.append("rect").attr("x",x0).attr("y",y0).attr("width",x1-x0).attr("height",y1-y0)
    .attr("fill","none").attr("stroke","#000").attr("stroke-width",sw);
}
function frameAxes(x, y, xt, xl, yt, yl, tl, padX, padY){
  const [x0,x1] = x.range(), [y1,y0] = y.range();
  svg.append("g").attr("transform",`translate(0,${y1})`)
    .call(d3.axisBottom(x).tickValues(xt).tickFormat((d,i)=>xl[i]).tickSizeInner(-tl).tickSizeOuter(0).tickPadding(padX))
    .call(styleAxis);
  svg.append("g").attr("transform",`translate(0,${y0})`)
    .call(d3.axisTop(x).tickValues(xt).tickFormat("").tickSizeInner(-tl).tickSizeOuter(0))
    .call(styleAxis);
  svg.append("g").attr("transform",`translate(${x0},0)`)
    .call(d3.axisLeft(y).tickValues(yt).tickFormat((d,i)=>yl[i]).tickSizeInner(-tl).tickSizeOuter(0).tickPadding(padY))
    .call(styleAxis);
  svg.append("g").attr("transform",`translate(${x1},0)`)
    .call(d3.axisRight(y).tickValues(yt).tickFormat("").tickSizeInner(-tl).tickSizeOuter(0))
    .call(styleAxis);
  box(x0,y0,x1,y1,1.2);
}
frameAxes(xA, yA, phaseTicksA, phaseLabelsA, fluxTicksA, fluxLabelsA, 8, 8, 4);
frameAxes(xB, yB, phaseTicksB, phaseLabelsB, fluxTicksB, fluxLabelsB, 5, 8, 3);

// ---------- inset ----------
svg.append("rect").attr("x",111).attr("y",358).attr("width",272).attr("height",184).attr("fill","#fff");
const comps = [
  {vals: reflection, dash: "1,3"},
  {vals: ellipsoidal, dash: "8,5"},
  {vals: boosting, dash: "8,3,1.5,3"},
  {vals: thermal, dash: null}
];
const gI = svg.append("g").attr("clip-path","url(#clipI)");
const lineI = d3.line().x((d,i)=>xI(insetPhase[i])).y(d=>yI(d)).curve(d3.curveCatmullRom.alpha(0.5));
comps.forEach(c=>{
  gI.append("path").datum(c.vals).attr("d",lineI).attr("fill","none")
    .attr("stroke","#000").attr("stroke-width",1)
    .attr("stroke-dasharray", c.dash);
});
frameAxes(xI, yI, insetXTicks, insetXLabels, insetYTicks, insetYLabels, 3, 8, 5);

// ---------- legend ----------
const lg = svg.append("g");
lg.append("rect").attr("x",383).attr("y",359).attr("width",114).attr("height",85)
  .attr("fill","#fff").attr("stroke","#000").attr("stroke-width",1);
const legY = d3.scalePoint().domain(legendNames).range([372,429]);
legendNames.forEach((n,i)=>{
  const yy = legY(n);
  lg.append("line").attr("x1",388).attr("x2",433).attr("y1",yy).attr("y2",yy)
    .attr("stroke","#000").attr("stroke-width",1).attr("stroke-dasharray",comps[i].dash);
  lg.append("text").attr("x",438).attr("y",yy+4).attr("font-size",FS).text(n);
});

// ---------- exponent labels, titles ----------
function expo(x, y, base, ex){
  const t = svg.append("text").attr("x",x).attr("y",y).attr("font-size",11);
  t.append("tspan").text(base);
  t.append("tspan").attr("dy",-6).attr("font-size",8).text(ex);
}
expo(63, 25, "x 10", "\u22124");
expo(963, 25, "x 10", "\u22123");
expo(88, 355, "x 10", "\u22125");

svg.append("text").attr("x",904).attr("y",59).attr("text-anchor","middle")
  .attr("font-family",SERIF).attr("font-size",22).text("A");
svg.append("text").attr("x",1070).attr("y",59).attr("text-anchor","middle")
  .attr("font-family",SERIF).attr("font-size",22).text("B");
svg.append("text").attr("x",502).attr("y",602).attr("text-anchor","middle")
  .attr("font-family",SERIF).attr("font-size",25).text("Orbital Phase");
svg.append("text").attr("transform","translate(36,297) rotate(-90)").attr("text-anchor","middle")
  .attr("font-family",SERIF).attr("font-size",25).text("Relative Flux");
</script>
</body></html>
